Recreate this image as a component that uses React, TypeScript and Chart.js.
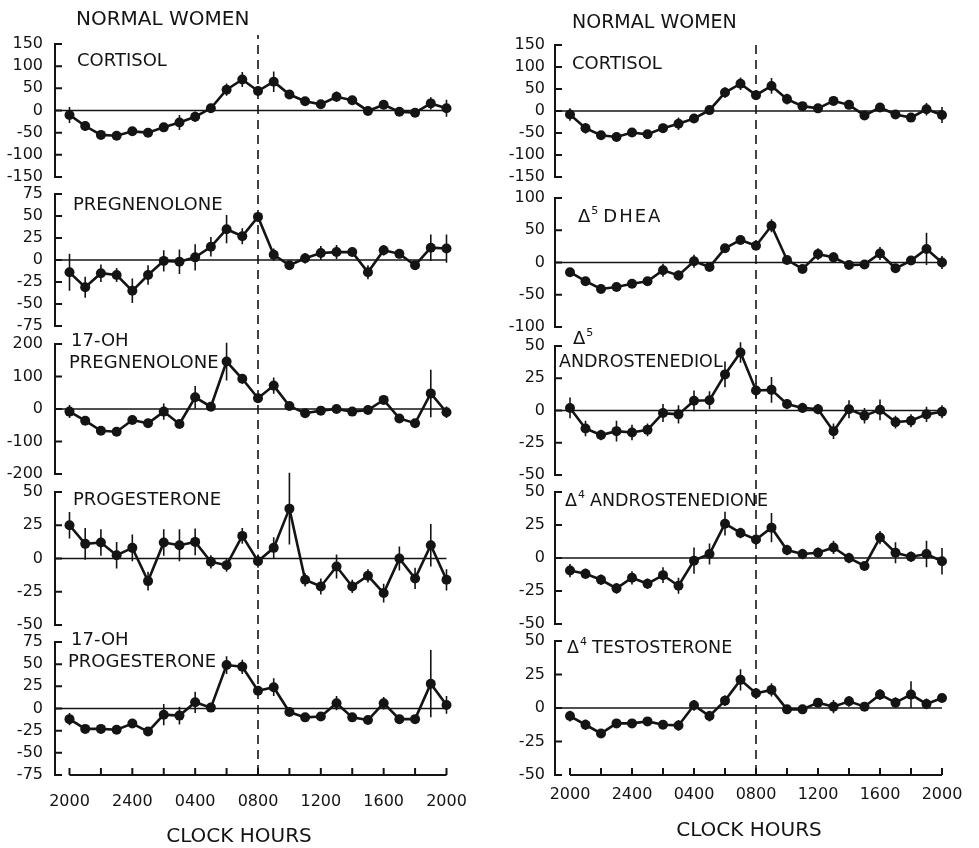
import React, { useEffect, useRef } from "react";
import { Chart, registerables } from "chart.js";

Chart.register(...registerables);

// ---------- shared axis data ----------
const hours = [0, 1, 2, 3, 4, 5, 6, 7, 8, 9, 10, 11, 12, 13, 14, 15, 16, 17, 18, 19, 20, 21, 22, 23, 24];
const hourTickValues = [0, 4, 8, 12, 16, 20, 24];
const hourTickLabels = ["2000", "2400", "0400", "0800", "1200", "1600", "2000"];
const hourMinorTicks = [0, 2, 4, 6, 8, 10, 12, 14, 16, 18, 20, 22, 24];
const dashedHour = 12; // 0800 clock hours

// ---------- left column (normal women) ----------
const cortisolL = [-10, -35, -55, -57, -47, -50, -38, -27, -14, 5, 47, 70, 44, 65, 36, 21, 14, 31, 23, -1, 13, -3, -5, 16, 5];
const cortisolLErr = [18, 10, 8, 8, 10, 8, 10, 17, 12, 10, 14, 17, 10, 23, 10, 8, 8, 12, 8, 8, 10, 6, 8, 14, 19];
const cortisolLTicks = [-150, -100, -50, 0, 50, 100, 150];

const pregL = [-14, -31, -15, -17, -35, -17, -1, -2, 3, 15, 35, 27, 49, 6, -6, 2, 8, 9, 9, -14, 11, 7, -6, 14, 13];
const pregLErr = [21, 12, 10, 8, 14, 11, 12, 14, 15, 11, 16, 9, 5, 7, 4, 6, 8, 8, 5, 8, 6, 5, 5, 15, 16];
const pregLTicks = [-75, -50, -25, 0, 25, 50, 75];

const ohPregL = [-8, -36, -67, -70, -34, -44, -8, -46, 36, 7, 146, 93, 33, 72, 9, -13, -5, 0, -8, -3, 28, -29, -44, 48, -10];
const ohPregLErr = [20, 10, 8, 8, 10, 8, 25, 8, 35, 10, 58, 15, 8, 25, 8, 6, 6, 10, 6, 8, 12, 6, 8, 73, 18];
const ohPregLTicks = [-200, -100, 0, 100, 200];

const progL = [25, 11, 12, 2.5, 8, -17, 12, 10, 12.5, -2.5, -5, 17, -2, 8, 37.5, -16, -21, -6, -21, -13, -26, 0, -15, 10, -16];
const progLErr = [10, 12, 10, 10, 10, 7, 10, 12, 10, 5, 5, 6, 5, 8, 27, 5, 6, 9, 5, 5, 7, 9, 8, 16, 8];
const progLTicks = [-50, -25, 0, 25, 50];

const ohProgL = [-12, -23, -23, -24, -17, -26, -7, -8, 7, 1, 49, 47, 20, 24, -4, -10, -9, 6, -10, -13, 6, -12, -12, 28, 4];
const ohProgLErr = [7, 5, 4, 4, 4, 5, 12, 10, 12, 5, 10, 8, 5, 10, 4, 4, 4, 8, 5, 4, 7, 5, 4, 38, 10];
const ohProgLTicks = [-75, -50, -25, 0, 25, 50, 75];

// ---------- right column (normal women) ----------
const cortisolR = [-8, -39, -55, -59, -49, -53, -39, -29, -17, 2, 42, 62, 36, 57, 27, 11, 6, 23, 14, -10, 8, -8, -15, 4, -9];
const cortisolRErr = [14, 12, 8, 8, 10, 8, 10, 14, 10, 8, 12, 14, 10, 18, 12, 8, 8, 10, 8, 6, 8, 6, 8, 14, 18];
const cortisolRTicks = [-150, -100, -50, 0, 50, 100, 150];

const dheaR = [-15, -29, -41, -38, -33, -29, -12, -20, 2, -7, 22, 35, 26, 57, 4, -10, 13, 8, -4, -3, 14, -9, 3, 21, 0];
const dheaRErr = [6, 5, 4, 4, 4, 4, 10, 8, 10, 5, 6, 5, 5, 10, 4, 4, 9, 8, 4, 4, 10, 4, 5, 25, 10];
const dheaRTicks = [-100, -50, 0, 50, 100];

const andiolR = [2, -14, -19, -16, -17, -15, -2, -3, 7.5, 8, 28, 45, 15.5, 16, 5, 2, 1, -16, 1, -4, 0.5, -9, -8, -3, -1];
const andiolRErr = [8, 6, 4, 8, 6, 5, 7, 7, 8, 7, 10, 8, 6, 10, 4, 4, 4, 6, 7, 6, 8, 5, 5, 6, 5];
const andiolRTicks = [-50, -25, 0, 25, 50];

const andioneR = [-9.5, -12, -16.5, -23, -15, -19.5, -13, -21, -2, 3, 26, 19, 14, 23, 6, 3, 4, 8, 0, -6, 15.5, 4, 1, 3, -2.5];
const andioneRErr = [5, 4, 4, 4, 5, 4, 6, 6, 10, 8, 9, 4, 4, 11, 4, 4, 4, 5, 4, 3, 5, 8, 4, 10, 10];
const andioneRTicks = [-50, -25, 0, 25, 50];

const testoR = [-6, -12.5, -19, -11.5, -11.5, -10, -12.5, -13, 2, -6, 5.5, 21, 11, 13.5, -1, -1, 4, 1, 5, 1, 10, 4, 10, 3, 7.5];
const testoRErr = [4, 4, 3, 3, 3, 3, 3, 4, 4, 4, 4, 8, 4, 5, 3, 3, 3, 5, 4, 3, 4, 4, 10, 4, 2];
const testoRTicks = [-50, -25, 0, 25, 50];

// ---------- styling / layout ----------
const INK = "#141414";
const FONT = "'DejaVu Sans', sans-serif";

type PanelSpec = { values: number[]; errors: number[]; yTicks: number[] };
type ColumnSpec = {
  canvasLeft: number;
  canvasWidth: number;
  axisX: number;
  firstX: number;
  step: number;
  tickPad: number;
  dashTop: number;
  xLabelPad: number;
  boxes: number[][];
  panels: PanelSpec[];
};

const leftColumn: ColumnSpec = {
  canvasLeft: 0,
  canvasWidth: 488,
  axisX: 55,
  firstX: 69.5,
  step: 15.708,
  tickPad: 12,
  dashTop: 35,
  xLabelPad: 17,
  boxes: [[44, 177], [194, 326], [344, 474], [492, 625], [642, 775]],
  panels: [
    { values: cortisolL, errors: cortisolLErr, yTicks: cortisolLTicks },
    { values: pregL, errors: pregLErr, yTicks: pregLTicks },
    { values: ohPregL, errors: ohPregLErr, yTicks: ohPregLTicks },
    { values: progL, errors: progLErr, yTicks: progLTicks },
    { values: ohProgL, errors: ohProgLErr, yTicks: ohProgLTicks },
  ],
};

const rightColumn: ColumnSpec = {
  canvasLeft: 490,
  canvasWidth: 489,
  axisX: 555,
  firstX: 570,
  step: 15.5,
  tickPad: 10,
  dashTop: 43,
  xLabelPad: 10,
  boxes: [[45, 177], [198, 327], [346, 475], [492, 624], [641, 775]],
  panels: [
    { values: cortisolR, errors: cortisolRErr, yTicks: cortisolRTicks },
    { values: dheaR, errors: dheaRErr, yTicks: dheaRTicks },
    { values: andiolR, errors: andiolRErr, yTicks: andiolRTicks },
    { values: andioneR, errors: andioneRErr, yTicks: andioneRTicks },
    { values: testoR, errors: testoRErr, yTicks: testoRTicks },
  ],
};

function PanelChart({ col, index }: { col: ColumnSpec; index: number }) {
  const ref = useRef<HTMLCanvasElement>(null);
  const spec = col.panels[index];
  const isBottom = index === col.panels.length - 1;
  const [top, bottom] = col.boxes[index];
  const canvasTop = top - 26;
  const canvasBottom = isBottom ? 848 : bottom + 26;
  const height = canvasBottom - canvasTop;

  useEffect(() => {
    if (!ref.current) return;
    const xMin = -(col.firstX - col.axisX) / col.step;
    const xMax = 24.3;
    const right = col.axisX - col.canvasLeft + (xMax - xMin) * col.step;
    const padRight = col.canvasWidth - right;
    const xAxisH = isBottom ? 50 : 0;
    const padBottom = height - (bottom - canvasTop) - xAxisH;
    const yMin = spec.yTicks[0];
    const yMax = spec.yTicks[spec.yTicks.length - 1];
    const dashFrom = index === 0 ? col.dashTop : col.boxes[index - 1][1];
    const dashTo = bottom;

    const frame = {
      id: "frame",
      beforeDatasetsDraw(chart: any) {
        const { ctx, chartArea, scales } = chart;
        const xs = scales.x;
        const ys = scales.y;
        const ax = chartArea.left;
        ctx.save();
        ctx.strokeStyle = INK;
        ctx.lineCap = "butt";
        // y axis with inward ticks
        ctx.lineWidth = 2;
        ctx.beginPath();
        ctx.moveTo(ax, ys.getPixelForValue(yMax) - 1);
        ctx.lineTo(ax, ys.getPixelForValue(yMin) + 1);
        for (const t of spec.yTicks) {
          const y = ys.getPixelForValue(t);
          ctx.moveTo(ax, y);
          ctx.lineTo(ax + 7, y);
        }
        ctx.stroke();
        // zero line
        const y0 = ys.getPixelForValue(0);
        ctx.lineWidth = 1.5;
        ctx.beginPath();
        ctx.moveTo(ax, y0);
        ctx.lineTo(xs.getPixelForValue(hours[hours.length - 1]), y0);
        ctx.stroke();
        // error bars
        ctx.lineWidth = 1.6;
        ctx.beginPath();
        hours.forEach((h, i) => {
          const x = xs.getPixelForValue(h);
          ctx.moveTo(x, ys.getPixelForValue(spec.values[i] - spec.errors[i]));
          ctx.lineTo(x, ys.getPixelForValue(spec.values[i] + spec.errors[i]));
        });
        ctx.stroke();
        // bottom time axis
        if (isBottom) {
          const yb = ys.getPixelForValue(yMin);
          ctx.lineWidth = 2;
          ctx.beginPath();
          ctx.moveTo(xs.getPixelForValue(hours[0]), yb);
          ctx.lineTo(xs.getPixelForValue(hours[hours.length - 1]), yb);
          for (const t of hourMinorTicks) {
            const x = xs.getPixelForValue(t);
            ctx.moveTo(x, yb);
            ctx.lineTo(x, yb - 7);
          }
          ctx.stroke();
        }
        // dashed 0800 line
        const xd = xs.getPixelForValue(dashedHour);
        ctx.lineWidth = 1.6;
        ctx.setLineDash([9, 6]);
        ctx.lineDashOffset = dashFrom % 15;
        ctx.beginPath();
        ctx.moveTo(xd, dashFrom - canvasTop);
        ctx.lineTo(xd, dashTo - canvasTop);
        ctx.stroke();
        ctx.restore();
      },
    };

    const chart = new Chart(ref.current, {
      type: "line",
      data: {
        datasets: [
          {
            data: hours.map((h, i) => ({ x: h, y: spec.values[i] })),
            borderColor: INK,
            borderWidth: 2.6,
            pointRadius: 5,
            pointHoverRadius: 5,
            pointBackgroundColor: INK,
            pointBorderWidth: 0,
            tension: 0,
            clip: false as any,
          },
        ],
      },
      options: {
        responsive: false,
        animation: false,
        devicePixelRatio: 1,
        events: [],
        layout: { padding: { top: top - canvasTop, bottom: padBottom, left: 0, right: padRight } },
        plugins: { legend: { display: false }, tooltip: { enabled: false }, title: { display: false } },
        scales: {
          x: {
            type: "linear",
            min: xMin,
            max: xMax,
            display: isBottom,
            grid: { display: false, drawTicks: false },
            border: { display: false },
            afterBuildTicks: (s: any) => {
              s.ticks = hourTickValues.map((v) => ({ value: v }));
            },
            afterFit: (s: any) => {
              s.height = xAxisH;
            },
            ticks: {
              autoSkip: false,
              maxRotation: 0,
              padding: col.xLabelPad,
              color: INK,
              font: { family: FONT, size: 16 },
              callback: (v: any) => {
                const i = hourTickValues.indexOf(Number(v));
                return i >= 0 ? hourTickLabels[i] : "";
              },
            },
          },
          y: {
            type: "linear",
            min: yMin,
            max: yMax,
            grid: { display: false, drawTicks: false },
            border: { display: false },
            afterBuildTicks: (s: any) => {
              s.ticks = spec.yTicks.map((v) => ({ value: v }));
            },
            afterFit: (s: any) => {
              s.width = col.axisX - col.canvasLeft;
            },
            ticks: {
              autoSkip: false,
              padding: col.tickPad,
              color: INK,
              font: { family: FONT, size: 16 },
              callback: (v: any) => String(v),
            },
          },
        },
      } as any,
      plugins: [frame],
    });
    return () => chart.destroy();
  }, []);

  return (
    <canvas
      ref={ref}
      width={col.canvasWidth}
      height={height}
      style={{ position: "absolute", left: col.canvasLeft, top: canvasTop, width: col.canvasWidth, height }}
    />
  );
}

function Label({ x, cy, size = 18, children, center = false, spacing = 0 }: any) {
  return (
    <div
      style={{
        position: "absolute",
        left: x,
        top: cy - size * 0.5,
        fontFamily: FONT,
        fontSize: size,
        lineHeight: `${size}px`,
        color: INK,
        whiteSpace: "nowrap",
        letterSpacing: spacing,
        transform: center ? "translateX(-50%)" : undefined,
      }}
    >
      {children}
    </div>
  );
}

const Sup = ({ children }: any) => (
  <span style={{ fontSize: 11, position: "relative", top: -8, marginLeft: 1, marginRight: 5 }}>{children}</span>
);

export default function App() {
  return (
    <div style={{ position: "absolute", left: 0, top: 0, width: 979, height: 848, background: "#fff", overflow: "hidden" }}>
      {leftColumn.panels.map((_, i) => (
        <PanelChart key={"l" + i} col={leftColumn} index={i} />
      ))}
      {rightColumn.panels.map((_, i) => (
        <PanelChart key={"r" + i} col={rightColumn} index={i} />
      ))}

      <Label x={76} cy={17.5} size={20}>NORMAL WOMEN</Label>
      <Label x={572} cy={21} size={19}>NORMAL WOMEN</Label>

      <Label x={77} cy={60}>CORTISOL</Label>
      <Label x={73} cy={203.5}>PREGNENOLONE</Label>
      <Label x={71} cy={340}>17-OH</Label>
      <Label x={69} cy={362}>PREGNENOLONE</Label>
      <Label x={73} cy={499}>PROGESTERONE</Label>
      <Label x={71} cy={639}>17-OH</Label>
      <Label x={68} cy={661}>PROGESTERONE</Label>

      <Label x={572} cy={63}>CORTISOL</Label>
      <Label x={578} cy={216}>Δ<Sup>5</Sup><span style={{ letterSpacing: 2 }}>DHEA</span></Label>
      <Label x={573} cy={338}>Δ<Sup>5</Sup></Label>
      <Label x={559} cy={361.5} size={17.5}>ANDROSTENEDIOL</Label>
      <Label x={565} cy={501} size={17.5}>Δ<Sup>4</Sup>ANDROSTENEDIONE</Label>
      <Label x={567} cy={647.5} size={17.5}>Δ<Sup>4</Sup>TESTOSTERONE</Label>

      <Label x={239} cy={835} size={20} center>CLOCK HOURS</Label>
      <Label x={749} cy={829} size={20} center>CLOCK HOURS</Label>
    </div>
  );
}
